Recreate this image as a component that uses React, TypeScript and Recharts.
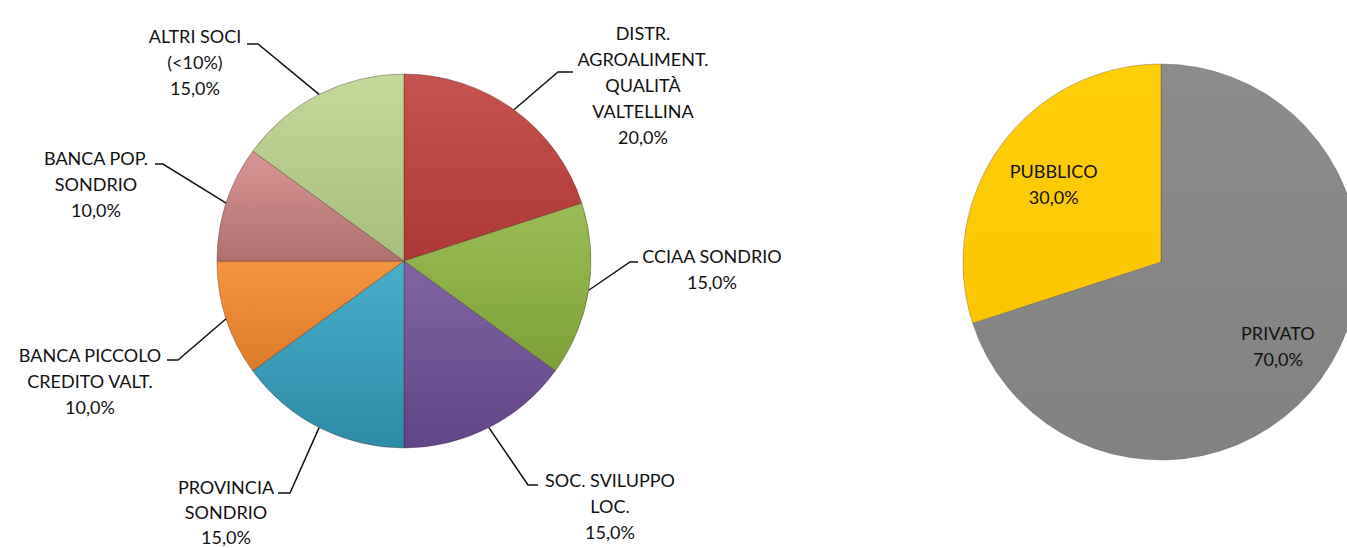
import { Cell, Pie, PieChart } from "recharts";

// composizione soci (in senso orario dalle ore 12)
const soci = [
  "DISTR.\nAGROALIMENT.\nQUALITÀ\nVALTELLINA",
  "CCIAA SONDRIO",
  "SOC. SVILUPPO\nLOC.",
  "PROVINCIA\nSONDRIO",
  "BANCA PICCOLO\nCREDITO VALT.",
  "BANCA POP.\nSONDRIO",
  "ALTRI SOCI\n(<10%)",
];
const quoteSoci = [20, 15, 15, 15, 10, 10, 15];

const settori = ["PRIVATO", "PUBBLICO"];
const quoteSettori = [70, 30];

const sociData = soci.map((name, i) => ({ name, value: quoteSoci[i] }));
const settoriData = settori.map((name, i) => ({ name, value: quoteSettori[i] }));

const sociColors = [
  ["#C6534F", "#AE3835"],
  ["#9ABC56", "#7DA138"],
  ["#8064A2", "#614588"],
  ["#48AFCB", "#2D8BA7"],
  ["#F6933F", "#DE7B2A"],
  ["#D89593", "#B07170"],
  ["#C4D899", "#A7BE7E"],
];
const settoriColors = [
  ["#8C8C8C", "#828282"],
  ["#FFCF0A", "#FCC600"],
];

// posizioni delle etichette esterne: gomito della linea, fine del tratto orizzontale, centro testo, prima riga
const sociLabels = [
  { ex: 558, ey: 72, hx: 573, tx: 643, ty: 33 },
  { ex: 630, ey: 262, hx: 638, tx: 712, ty: 256 },
  { ex: 528, ey: 485, hx: 538, tx: 610, ty: 480 },
  { ex: 290, ey: 493, hx: 278, tx: 226, ty: 487, lh: 25 },
  { ex: 178, ey: 360, hx: 167, tx: 90, ty: 355 },
  { ex: 163, ey: 164, hx: 155, tx: 96, ty: 158 },
  { ex: 258, ey: 44, hx: 247, tx: 195, ty: 36 },
];
const settoriLabelRadius = [0.73, 0.67];

const font = "Lato, 'Open Sans', sans-serif";
const lineH = 26;

const pct = (p: number) => `${(p * 100).toFixed(1).replace(".", ",")}%`;

function SocioLabel(props: any) {
  const { cx, cy, midAngle, outerRadius, index, percent } = props;
  const a = (-midAngle * Math.PI) / 180;
  const sx = cx + outerRadius * Math.cos(a);
  const sy = cy + outerRadius * Math.sin(a);
  const l: any = sociLabels[index];
  const lh = l.lh ?? lineH;
  const lines = [...soci[index].split("\n"), pct(percent)];
  return (
    <g>
      <polyline points={`${sx},${sy} ${l.ex},${l.ey} ${l.hx},${l.ey}`} fill="none" stroke="#111" strokeWidth={1.5} />
      <text textAnchor="middle" fontFamily={font} fontSize={18} fill="#111">
        {lines.map((t, i) => (
          <tspan key={i} x={l.tx} y={l.ty + i * lh + 6.5}>{t}</tspan>
        ))}
      </text>
    </g>
  );
}

function SettoreLabel(props: any) {
  const { cx, cy, midAngle, outerRadius, index, percent } = props;
  const a = (-midAngle * Math.PI) / 180;
  const r = outerRadius * settoriLabelRadius[index];
  const x = cx + r * Math.cos(a);
  const y = cy + r * Math.sin(a);
  return (
    <text textAnchor="middle" fontFamily={font} fontSize={18} fill="#111">
      <tspan x={x} y={y - lineH / 2 + 6.5}>{settori[index]}</tspan>
      <tspan x={x} y={y + lineH / 2 + 6.5}>{pct(percent)}</tspan>
    </text>
  );
}

export default function App() {
  return (
    <div style={{ position: "absolute", left: 0, top: 0, width: 1347, height: 548, background: "#fff", overflow: "hidden" }}>
      <PieChart width={1347} height={548} margin={{ top: 0, right: 0, bottom: 0, left: 0 }}>
        <defs>
          {[...sociColors, ...settoriColors].map(([c1, c2], i) => (
            <linearGradient key={i} id={`g${i}`} x1="0" y1="0" x2="0" y2="1">
              <stop offset="0%" stopColor={c1} />
              <stop offset="100%" stopColor={c2} />
            </linearGradient>
          ))}
        </defs>
        <Pie
          data={sociData}
          dataKey="value"
          nameKey="name"
          cx={404}
          cy={261}
          outerRadius={187}
          startAngle={90}
          endAngle={-270}
          stroke="rgba(60,30,30,0.35)"
          strokeWidth={1}
          label={SocioLabel}
          labelLine={false}
          isAnimationActive={false}
        >
          {sociData.map((_, i) => <Cell key={i} fill={`url(#g${i})`} />)}
        </Pie>
        <Pie
          data={settoriData}
          dataKey="value"
          nameKey="name"
          cx={1161}
          cy={262}
          outerRadius={198}
          startAngle={90}
          endAngle={-270}
          stroke="rgba(80,80,80,0.35)"
          strokeWidth={1}
          label={SettoreLabel}
          labelLine={false}
          isAnimationActive={false}
        >
          {settoriData.map((_, i) => <Cell key={i} fill={`url(#g${sociColors.length + i})`} />)}
        </Pie>
      </PieChart>
    </div>
  );
}
